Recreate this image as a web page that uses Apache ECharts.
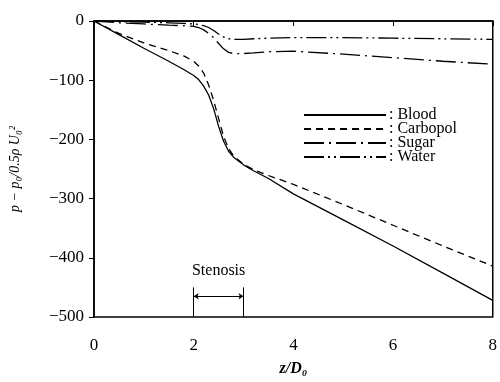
<!DOCTYPE html>
<html>
<head>
<meta charset="utf-8">
<script src="https://cdn.jsdelivr.net/npm/echarts@6/dist/echarts.min.js"></script>
<style>
  html, body { margin: 0; padding: 0; background: #fff; }
  #chart { width: 500px; height: 382px; }
</style>
</head>
<body>
<div id="chart"></div>
<script>
// axial position z/D0
const zPos = [0, 0.5, 1, 1.5, 1.8, 2.0, 2.1, 2.2, 2.3, 2.4, 2.5, 2.6, 2.7, 2.8, 3.0, 3.2, 3.5, 4, 5, 6, 7, 8];
const blood    = [0, -23, -46, -68, -82, -92, -99, -110, -125, -148, -178, -203, -220, -230, -243, -253, -266, -292, -336, -380, -426, -472];
const carbopol = [0, -21, -37, -50, -59, -68, -76, -88, -108, -134, -165, -195, -215, -228, -242, -251, -261, -276, -310, -345, -380, -414];
const sugar    = [0, -3, -5, -7, -8, -9, -11, -15, -21, -28, -38, -47, -53, -55, -55, -54, -52, -51, -56, -62, -68, -73];
const water    = [0, -1, -2, -3, -4, -5, -6, -8, -11, -16, -22, -27, -30, -31, -31, -30, -29, -28, -28, -29, -30, -31];
const names = ['Blood', 'Carbopol', 'Sugar', 'Water'];
// stenosis region (z/D0)
const stenosisZ = [2, 3];

const font = 'Liberation Serif';
const pair = vals => zPos.map((z, i) => [z, vals[i]]);

const lineSeries = (name, vals, dash) => ({
  name: name,
  type: 'line',
  data: pair(vals),
  symbol: 'none',
  smooth: false,
  lineStyle: { color: '#000', width: 1.3, type: dash },
  itemStyle: { color: '#000' },
  z: 3
});

const chart = echarts.init(document.getElementById('chart'));
chart.setOption({
  animation: false,
  backgroundColor: '#fff',
  textStyle: { fontFamily: font, color: '#000' },
  grid: { left: 94, right: 5, top: 21, bottom: 60, show: true, borderColor: '#000', borderWidth: 1.5 },
  legend: {
    data: names,
    orient: 'vertical',
    left: 298,
    top: 102,
    itemWidth: 82,
    itemHeight: 14,
    itemGap: -2,
    formatter: ': {name}',
    itemStyle: { opacity: 0 },
    textStyle: { fontFamily: font, fontSize: 16, lineHeight: 14, color: '#000', padding: [0, 0, 0, -2] }
  },
  xAxis: {
    type: 'value',
    min: 0, max: 8, interval: 2,
    name: 'z/D₀',
    nameLocation: 'middle',
    nameGap: 44,
    nameTextStyle: { fontFamily: font, fontSize: 16, fontStyle: 'italic', fontWeight: 'bold', color: '#000' },
    axisLine: { lineStyle: { color: '#000', width: 1.5 } },
    axisTick: { length: 5, lineStyle: { color: '#000' } },
    axisLabel: { fontFamily: font, fontSize: 17, color: '#000', margin: 20 },
    splitLine: { show: false }
  },
  yAxis: {
    type: 'value',
    min: -500, max: 0, interval: 100,
    name: 'p − p₀/0.5ρ U₀²',
    nameLocation: 'middle',
    nameGap: 72,
    nameRotate: 90,
    nameTextStyle: { fontFamily: font, fontSize: 14, fontStyle: 'italic', color: '#000' },
    axisLine: { lineStyle: { color: '#000', width: 1.5 } },
    axisTick: { length: 5, lineStyle: { color: '#000' } },
    axisLabel: { fontFamily: font, fontSize: 17, color: '#000', margin: 10,
      formatter: v => String(v).replace('-', '\u2212') },
    splitLine: { show: false }
  },
  series: [
    lineSeries('Blood', blood, 'solid'),
    lineSeries('Carbopol', carbopol, [7, 5]),
    lineSeries('Sugar', sugar, [20, 5, 2, 5]),
    lineSeries('Water', water, [20, 4, 2, 4, 2, 4]),
    {
      name: 'stenosis',
      type: 'line',
      data: [],
      silent: true,
      markLine: {
        silent: true,
        symbol: 'none',
        lineStyle: { color: '#000', width: 1, type: 'solid' },
        label: { show: false },
        data: [
          [{ coord: [stenosisZ[0], -500] }, { coord: [stenosisZ[0], -450] }],
          [{ coord: [stenosisZ[1], -500] }, { coord: [stenosisZ[1], -450] }],
          [{ coord: [stenosisZ[0], -465], symbol: 'arrow', symbolSize: 5 },
           { coord: [stenosisZ[1], -465], symbol: 'arrow', symbolSize: 5 }]
        ]
      },
      markPoint: {
        silent: true,
        symbol: 'circle',
        symbolSize: 0,
        label: { show: true, position: 'inside', formatter: 'Stenosis', fontFamily: font, fontSize: 16, color: '#000' },
        data: [{ coord: [(stenosisZ[0] + stenosisZ[1]) / 2, -422] }]
      }
    }
  ]
});
</script>
</body>
</html>
